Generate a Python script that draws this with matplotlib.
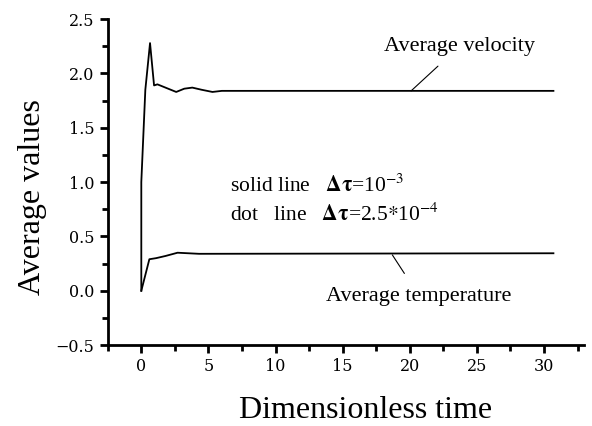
import matplotlib.pyplot as plt
from matplotlib.ticker import MultipleLocator

plt.rcParams['font.family'] = ['Liberation Serif', 'DejaVu Serif']
plt.rcParams['mathtext.fontset'] = 'stix'

# average velocity vs dimensionless time
t_vel = [0, 0, 0.3, 0.65, 0.95, 1.2, 1.8, 2.6, 3.2, 3.8, 4.5, 5.3, 6.0, 30.7]
vel = [0.0, 1.0, 1.85, 2.28, 1.89, 1.90, 1.87, 1.83, 1.86, 1.87, 1.85, 1.83, 1.84, 1.84]

# average temperature vs dimensionless time
t_temp = [0, 0.6, 1.1, 1.8, 2.7, 3.5, 4.3, 30.7]
temp = [0.0, 0.29, 0.30, 0.32, 0.35, 0.345, 0.34, 0.345]

fig = plt.figure(figsize=(5.92, 4.26), dpi=100)
ax = fig.add_axes([0.182, 0.19, 0.805, 0.765])

ax.plot(t_vel, vel, color='black', lw=1.3)
ax.plot(t_temp, temp, color='black', lw=1.3)

ax.set_xlim(-2.5, 33)
ax.set_ylim(-0.5, 2.5)
ax.xaxis.set_major_locator(MultipleLocator(5))
ax.xaxis.set_minor_locator(MultipleLocator(2.5))
ax.yaxis.set_major_locator(MultipleLocator(0.5))
ax.yaxis.set_minor_locator(MultipleLocator(0.25))
ax.set_xticks(range(0, 31, 5))
ax.tick_params(which='major', direction='out', length=6, width=2, labelsize=11.5)
ax.tick_params(which='minor', direction='out', length=4, width=2)
ax.yaxis.set_major_formatter(plt.FuncFormatter(lambda v, p: f"{v:.1f}".replace('-', '\u2212')))
for lab in ax.get_xticklabels() + ax.get_yticklabels():
    lab.set_family('DejaVu Serif')

#remove spines
ax.spines['top'].set_visible(False); ax.spines['right'].set_visible(False)
ax.spines['left'].set_linewidth(2); ax.spines['bottom'].set_linewidth(2)

ax.set_ylabel("Average values", fontsize=23, va='center')
ax.yaxis.set_label_coords(-0.157, 0.454)
ax.set_xlabel("Dimensionless time", fontsize=23, va='center')
ax.xaxis.set_label_coords(0.541, -0.20)

# curve labels with leader lines
ax.annotate("Average velocity", xy=(20.1, 1.84), xytext=(23.7, 2.25),
            ha='center', va='center', fontsize=16,
            arrowprops=dict(arrowstyle='-', color='black', lw=0.8, shrinkA=8, shrinkB=0))
ax.annotate("Average temperature", xy=(18.7, 0.33), xytext=(20.7, -0.05),
            ha='center', va='center', fontsize=16,
            arrowprops=dict(arrowstyle='-', color='black', lw=0.8, shrinkA=9, shrinkB=0))

ax.text(6.6, 0.97, r"solid line   $\mathbf{\Delta\tau}$=10$^{-3}$",
        fontsize=15.5, va='center')
ax.text(6.6, 0.70, r"dot   line   $\mathbf{\Delta\tau}$=2.5$*$10$^{-4}$",
        fontsize=15.5, va='center')

fig.savefig("out.png", dpi=100)
